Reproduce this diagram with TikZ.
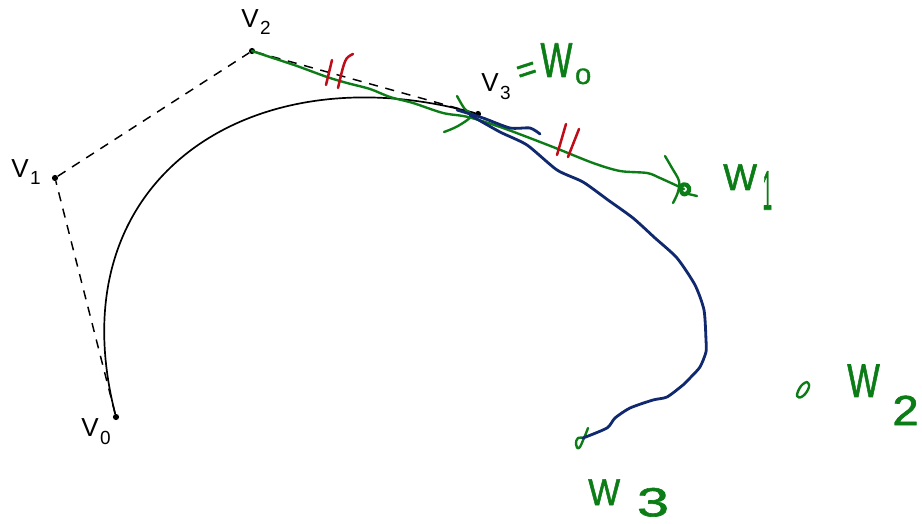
\documentclass[tikz,border=0pt]{standalone}
\usepackage{fontspec}
\setmainfont{Liberation Sans}
\newfontfamily\inkfont[FakeBold=1.5]{Liberation Sans}
\usepackage{xcolor}
\usetikzlibrary{positioning}

\definecolor{inkgreen}{RGB}{12,125,22}
\definecolor{inkblue}{RGB}{16,40,110}
\definecolor{inkred}{RGB}{190,12,24}

% polygon label: letter and a large lowered index
\newcommand{\vlabel}[1]{V\kern0.05em\raisebox{-0.3em}{\fontsize{13.5}{14}\selectfont #1}}
% handwritten label: stretched letter, then index stretched, moved and lowered
\newcommand{\inklabel}[7]{\scalebox{#1}[#2]{W}\kern#6\raisebox{#7}{\scalebox{#4}[#5]{#3}}}

\begin{document}
\begin{tikzpicture}[
    x=0.025cm,
    y=-0.025cm,
    line cap=round,
    line join=round
]

\tikzstyle{vertex}=[
    circle,
    fill=black,
    minimum size=4.4pt,
    inner sep=0pt
]
\tikzstyle{vlab}=[
    inner sep=0pt,
    font=\fontsize{18.5}{19}\selectfont
]
\tikzstyle{polygon}=[dash pattern=on 6.5pt off 5.5pt, line width=1.05pt, line cap=butt]
\tikzstyle{greenink}=[inkgreen, line width=1.7pt]
\tikzstyle{blueink}=[inkblue, line width=2pt]
\tikzstyle{redink}=[inkred, line width=1.8pt]
\tikzstyle{inktext}=[
    inkgreen,
    inner sep=0pt,
    font=\inkfont\fontsize{24}{24}\selectfont
]

\useasboundingbox (0,0) rectangle (922,524);

\node[vertex] (V0) at (116,417) {};
\node[vertex] (V1) at (55,178) {};
\node[vertex] (V2) at (252,51) {};
\node[vertex] (V3) at (478,114) {};

\node[vlab] (labV0) at (96,432) {\vlabel{0}};
\node[vlab] (labV1) at (26,172) {\vlabel{1}};
\node[vlab] (labV2) at (256,22) {\vlabel{2}};
\node[vlab] (labV3) at (496,87) {\vlabel{3}};

\draw[polygon] (V0) -- (V1) -- (V2) -- (V3);
\draw[line width=1.2pt] (V0) .. controls (V1) and (V2) .. (V3);

\coordinate (W1) at (684,189);
\coordinate (W3) at (583,438);

% segment from V2 over V3 to W1
\draw[greenink] plot[smooth,tension=0.5] coordinates {(V2) (273,58) (297,66) (327,77) (347,83) (370,89) (390,97) (413,103) (443,113) (468,117) (503,128) (553,147) (593,163) (620,171) (647,173) (660,178) (W1)};

% arrow strokes at V3 and W1
\draw[greenink] plot[smooth,tension=0.6] coordinates {(457,96) (464,108) (471,116) (458,126) (444,132)};
\draw[greenink] plot[smooth,tension=0.6] coordinates {(665,156) (672,168) (679,181) (678,192) (673,203)};
\draw[greenink, line width=3pt] plot[smooth cycle,tension=0.8] coordinates {(681,186) (687,185) (689,191) (683,194)};
\draw[greenink] (684,193) -- (697,196);

% points W2 and W3
\draw[greenink] plot[smooth,tension=0.8] coordinates {(807,382) (801,386) (797,396) (803,396) (809,387) (807,382)};
\draw[greenink] plot[smooth,tension=0.8] coordinates {(588,428) (584,438) (579,448) (576,444) (578,438) (583,438)};

% tick marks
\draw[redink] (332,60) -- (326,85);
\draw[redink] (353,54) .. controls (345,58) .. (338,88);
\draw[redink] (566,124) -- (557,155);
\draw[redink] (579,129) -- (568,157);

% curve towards W3
\draw[blueink] plot[smooth,tension=0.4] coordinates {(457,110) (483,118) (510,128) (530,128) (540,134)};
\draw[blueink] plot[smooth,tension=0.4] coordinates {(470,115) (500,132) (527,145) (557,170) (583,182) (608,200) (633,218) (655,238) (677,258) (695,285) (704,310) (706,340) (706,352) (700,367) (690,378) (683,385) (667,397) (653,400) (630,408) (615,418) (607,428) (W3)};

\node[inktext, anchor=base west] (labW0) at (515,77) {\raisebox{-2.5pt}{\rotatebox[origin=c]{18}{=}}\kern1pt\inklabel{1}{1.45}{0}{0.85}{0.66}{2pt}{-5pt}};
\node[inktext, anchor=base west] (labW1) at (723,190) {\inklabel{1.06}{1.1}{1}{0.5}{1.65}{4pt}{-14pt}};
\node[inktext, anchor=base west] (labW2) at (847,397) {\inklabel{1.02}{1.4}{2}{1.4}{1.25}{9pt}{-20pt}};
\node[inktext, anchor=base west] (labW3) at (588,505) {\inklabel{1}{1.1}{3}{1.7}{1.2}{12pt}{-8pt}};

\end{tikzpicture}
\end{document}
